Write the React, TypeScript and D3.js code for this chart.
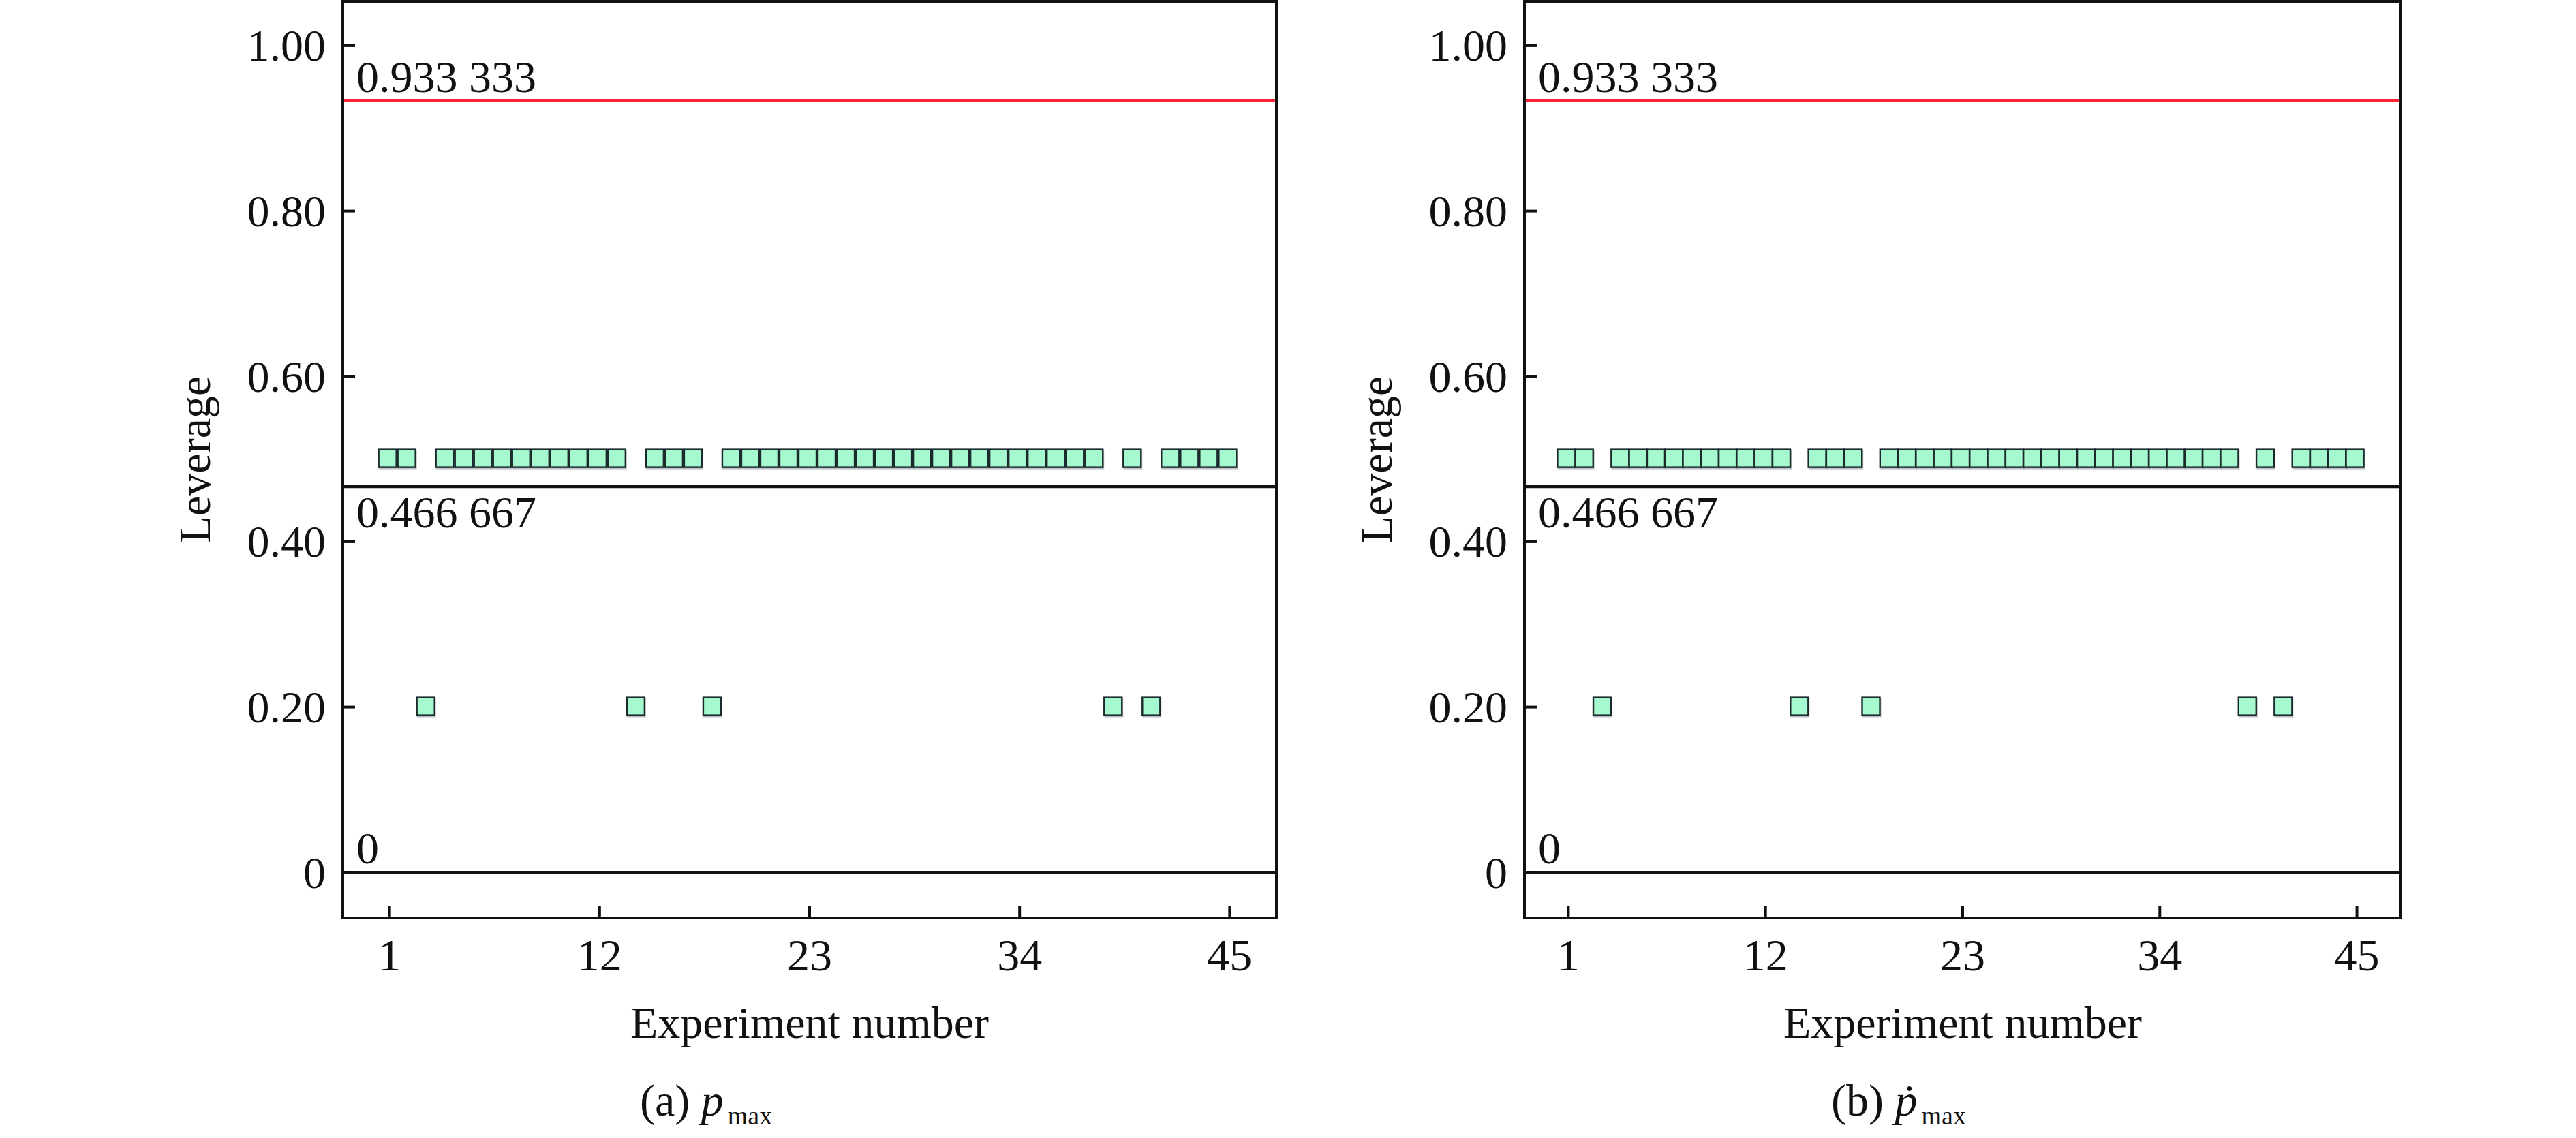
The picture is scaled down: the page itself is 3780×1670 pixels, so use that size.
import * as d3 from "d3";

// leverage of each experiment (same design for both responses)
const experiments = d3.range(1, 46);
const leverageA = [
  0.5, 0.5, 0.2, 0.5, 0.5, 0.5, 0.5, 0.5, 0.5, 0.5, 0.5, 0.5, 0.5, 0.2, 0.5,
  0.5, 0.5, 0.2, 0.5, 0.5, 0.5, 0.5, 0.5, 0.5, 0.5, 0.5, 0.5, 0.5, 0.5, 0.5,
  0.5, 0.5, 0.5, 0.5, 0.5, 0.5, 0.5, 0.5, 0.2, 0.5, 0.2, 0.5, 0.5, 0.5, 0.5,
];
const leverageB = [
  0.5, 0.5, 0.2, 0.5, 0.5, 0.5, 0.5, 0.5, 0.5, 0.5, 0.5, 0.5, 0.5, 0.2, 0.5,
  0.5, 0.5, 0.2, 0.5, 0.5, 0.5, 0.5, 0.5, 0.5, 0.5, 0.5, 0.5, 0.5, 0.5, 0.5,
  0.5, 0.5, 0.5, 0.5, 0.5, 0.5, 0.5, 0.5, 0.2, 0.5, 0.2, 0.5, 0.5, 0.5, 0.5,
];

const limitValues = [0.933333, 0.466667, 0];
const limitLabels = ["0.933 333", "0.466 667", "0"];
const limitColors = ["#ff2236", "#111111", "#111111"];

const xTicks = [1, 12, 23, 34, 45];
const yTicks = [0, 0.2, 0.4, 0.6, 0.8, 1.0];
const yTickLabels = ["0", "0.20", "0.40", "0.60", "0.80", "1.00"];

const FONT = "'Liberation Serif', 'Times New Roman', serif";
const W = 3780;
const H = 1670;
const TOP = 2;
const BOTTOM = 1347;

function Panel({ left, right, values, caption, dotted, captionX }) {
  const x = d3.scaleLinear([-1.45, 47.45], [left, right]);
  const y = d3.scaleLinear([-0.055, 1.0535], [BOTTOM, TOP]);
  const size = 26;
  const pts = experiments.map((e, i) => ({ e, v: values[i] }));

  return (
    <g fontFamily={FONT} fill="#111">
      {/* limit lines */}
      {limitValues.map((v, i) => (
        <g key={"l" + i}>
          <line x1={left} x2={right} y1={y(v)} y2={y(v)} stroke={limitColors[i]} strokeWidth={4.5} />
          <text
            x={left + 20}
            y={i === 1 ? y(v) + 60 : y(v) - 13}
            fontSize={66}
          >
            {limitLabels[i]}
          </text>
        </g>
      ))}

      {/* points */}
      {pts.map((d) => (
        <g key={d.e}>
          <rect
            x={x(d.e) - size / 2 - 3}
            y={y(d.v) - size / 2}
            width={size + 2}
            height={size + 2}
            fill="#8e9898"
            opacity={0.6}
          />
          <rect
            x={x(d.e) - size / 2 - 3}
            y={y(d.v) - size / 2 - 1}
            width={size}
            height={size}
            fill="#a6f8cf"
            stroke="#1b2a2d"
            strokeWidth={2.4}
          />
        </g>
      ))}

      {/* frame */}
      <rect x={left} y={TOP} width={right - left} height={BOTTOM - TOP} fill="none" stroke="#111" strokeWidth={4} />

      {/* y axis */}
      {yTicks.map((t, i) => (
        <g key={"y" + t}>
          <line x1={left} x2={left + 18} y1={y(t)} y2={y(t)} stroke="#111" strokeWidth={4} />
          <text x={left - 25} y={y(t)} dy="0.34em" textAnchor="end" fontSize={66}>
            {yTickLabels[i]}
          </text>
        </g>
      ))}
      <text
        transform={`translate(${left - 195},${(TOP + BOTTOM) / 2}) rotate(-90)`}
        textAnchor="middle"
        fontSize={66}
      >
        Leverage
      </text>

      {/* x axis */}
      {xTicks.map((t) => (
        <g key={"x" + t}>
          <line x1={x(t)} x2={x(t)} y1={BOTTOM} y2={BOTTOM - 17} stroke="#111" strokeWidth={4} />
          <text x={x(t)} y={BOTTOM + 77} textAnchor="middle" fontSize={66}>
            {t}
          </text>
        </g>
      ))}
      <text x={(left + right) / 2} y={1523} textAnchor="middle" fontSize={66}>
        Experiment number
      </text>

      {/* caption */}
      <text x={captionX} y={1637} fontSize={66}>
        {caption + " "}
        <tspan fontStyle="italic">{dotted ? "\u1E57" : "p"}</tspan>
        <tspan fontSize={38} dy={13} dx={6}>max</tspan>
      </text>
    </g>
  );
}

export default function App() {
  return (
    <svg
      width={W}
      height={H}
      style={{ position: "absolute", left: 0, top: 0, background: "#fff" }}
    >
      <Panel left={503} right={1873} values={leverageA} caption="(a)" dotted={false} captionX={939} />
      <Panel left={2237} right={3523} values={leverageB} caption="(b)" dotted={true} captionX={2687} />
    </svg>
  );
}
